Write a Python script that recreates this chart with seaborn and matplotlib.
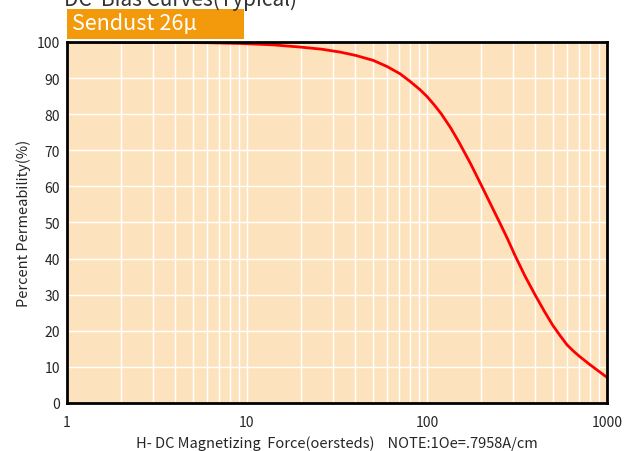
import numpy as np
import pandas as pd
import matplotlib
matplotlib.use("Agg")
import matplotlib.pyplot as plt
from matplotlib.patches import Rectangle
import seaborn as sns

# DC bias curve
h_field = [1, 3, 6, 9.1, 14, 19.7, 26, 32.9, 40, 50.3, 60, 70.8, 80, 91.4, 100, 110, 120, 135,
           150, 175, 200, 225, 255, 280, 308, 350, 400, 450, 500, 550, 600, 650, 700, 800, 900, 1000]
permeability = [100, 99.9, 99.8, 99.6, 99.2, 98.6, 98.0, 97.2, 96.3, 94.9, 93.2, 91.2, 89.2, 86.8, 84.9, 82.5, 80.1, 76.3,
                 72.4, 66.2, 60.4, 55.2, 49.7, 45.5, 40.9, 35.2, 29.8, 25.3, 21.5, 18.6, 16.1, 14.4, 13.0, 10.7, 8.8, 7.1]
y_ticks = list(range(0, 101, 10))
x_ticks = [1, 10, 100, 1000]

df = pd.DataFrame({"H": h_field, "perm": permeability})

sns.set_style("white")
plt.rcParams['font.family'] = ['Noto Sans CJK SC', 'DejaVu Sans']

fig = plt.figure(figsize=(6.25, 4.52), dpi=100)
ax = fig.add_axes([0.1072, 0.1062, 0.864, 0.7987])
ax.set_facecolor('#fde3bd')

sns.lineplot(data=df, x="H", y="perm", color='red', linewidth=2, ax=ax)

ax.set_xscale('log')
ax.set_xlim(1, 1000)
ax.set_ylim(0, 100)
ax.set_yticks(y_ticks)
ax.set_xticks(x_ticks)
ax.set_xticklabels([str(t) for t in x_ticks])
ax.grid(True, which='both', color='white', linewidth=1)
ax.tick_params(axis='both', labelsize=10, length=0, pad=5)
ax.tick_params(axis='x', pad=9)
for s in ax.spines.values():
    s.set_color('black')
    s.set_linewidth(2)

ax.set_xlabel("H- DC Magnetizing  Force(oersteds)    NOTE:1Oe=.7958A/cm", fontsize=10.5, labelpad=4)
ax.set_ylabel("Percent Permeability(%)", fontsize=10.5)

# title (cut off at the top like the reference) and orange label box
fig.text(0.102, 1.0, "DC  Bias Curves(Typical)", fontsize=15, color='#333333', va='center')
fig.patches.append(Rectangle((0.1072, 0.9115), 0.2832, 0.0664, transform=fig.transFigure,
                             facecolor='#f39a0c', edgecolor='none'))
fig.text(0.115, 0.946, "Sendust 26μ", fontsize=15.5, color='white', va='center')

fig.savefig("out.png", dpi=100)
